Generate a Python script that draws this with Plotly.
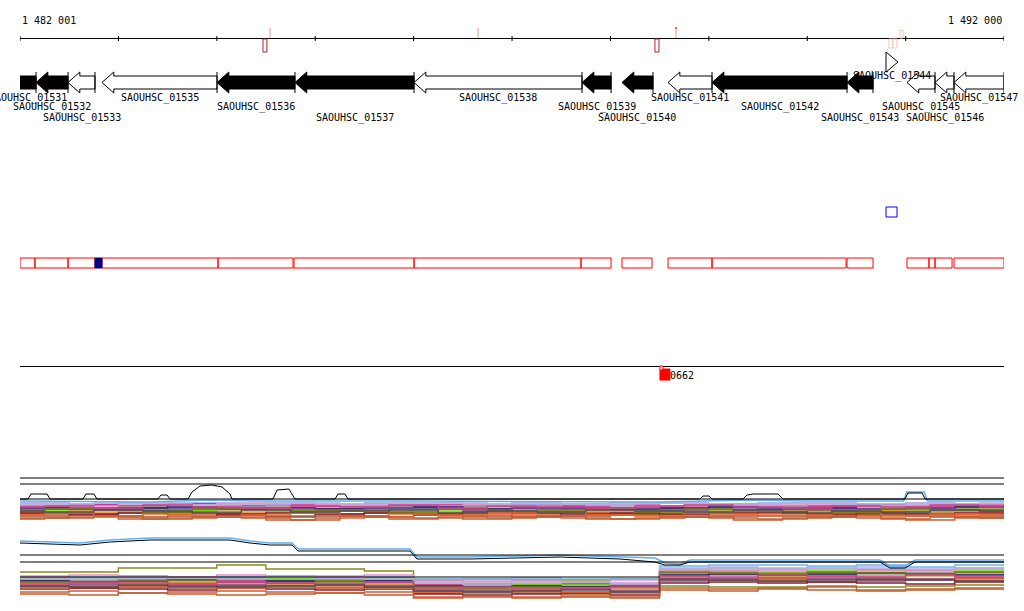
import plotly.graph_objects as go

# ---------------- data ----------------
X_MIN, X_MAX = 1482001, 1492000
ruler_ticks = [1482001, 1483001, 1484001, 1485001, 1486001, 1487001, 1488001,
               1489001, 1490001, 1491001, 1492000]
ruler_left_label = "1 482 001"
ruler_right_label = "1 492 000"

gene_names = ["SAOUHSC_01531", "SAOUHSC_01532", "SAOUHSC_01533", "SAOUHSC_01535",
              "SAOUHSC_01536", "SAOUHSC_01537", "SAOUHSC_01538", "SAOUHSC_01539",
              "SAOUHSC_01540", "SAOUHSC_01541", "SAOUHSC_01542", "SAOUHSC_01543",
              "SAOUHSC_01544", "SAOUHSC_01545", "SAOUHSC_01546", "SAOUHSC_01547"]
gene_start = [1481700, 1482164, 1482489, 1482834, 1484003, 1484795, 1486005, 1487712,
              1488118, 1488586, 1489033, 1490405, 1490801, 1491014, 1491299, 1491492]
gene_end = [1482164, 1482489, 1482763, 1484003, 1484795, 1486005, 1487712, 1488007,
            1488433, 1489033, 1490405, 1490669, 1490923, 1491299, 1491492, 1492000]
gene_strand = ["-", "-", "-", "-", "-", "-", "-", "-", "-", "-", "-", "-", "+", "-", "-", "-"]
gene_black = [1, 1, 0, 0, 1, 1, 0, 1, 1, 0, 1, 1, 0, 0, 0, 0]

# red region boxes
box_start = [1482001, 1482153, 1482489, 1482834, 1484013, 1484785, 1486005, 1487702,
             1488118, 1488586, 1489033, 1490405, 1491014, 1491238, 1491299, 1491492]
box_end = [1482153, 1482489, 1482763, 1484013, 1484775, 1486005, 1487702, 1488007,
           1488423, 1489033, 1490395, 1490669, 1491238, 1491299, 1491472, 1492000]
blue_fill_box = (1482763, 1482834)
blue_open_box = (1490801, 1490913)

# small ruler features
dark_red_marks = [(1484470, 1484510), (1488453, 1488494)]
pale_ticks = [1484541, 1486655, 1488667]
pale_low_boxes = [(1490831, 1490872), (1490872, 1490913)]
pale_high_boxes = [(1490943, 1490974)]

# feature on line track
feature_span = (1488504, 1488606)
feature_label = "0662"

# expression panels: sampled positions
X = [1482001, 1482500, 1483000, 1483500, 1484000, 1484500, 1485000, 1485500, 1486000,
     1486500, 1487000, 1487500, 1488000, 1488500, 1489000, 1489500, 1490000, 1490500,
     1491000, 1491500, 1492000]

p1_colors = ["#a99bd6", "#c0147c", "#e68ac4", "#9b9b9b", "#8a8a1a", "#5ce600", "#f07a2a",
             "#d9532b", "#a0522d", "#1c1c6e", "#c8a15a", "#8b1a2a", "#c85f3c", "#7a50a0"]
p1_values = [
    [22, 21, 22, 22, 21, 22, 21, 22, 22, 21, 22, 21, 22, 22, 21, 22, 22, 21, 22, 21, 22],
    [19, 20, 19, 21, 19, 20, 19, 19, 20, 19, 20, 19, 20, 19, 20, 19, 19, 20, 19, 20, 19],
    [20, 19, 21, 20, 22, 19, 20, 21, 19, 20, 19, 21, 20, 19, 21, 20, 21, 19, 20, 21, 20],
    [18, 17, 18, 17, 18, 18, 17, 18, 17, 18, 18, 17, 18, 17, 18, 18, 17, 18, 17, 18, 18],
    [16, 15, 17, 15, 16, 14, 16, 15, 17, 16, 15, 16, 14, 16, 15, 17, 15, 16, 14, 16, 15],
    [15, 16, 14, 15, 16, 15, 14, 16, 15, 14, 16, 15, 16, 14, 15, 16, 14, 15, 16, 14, 15],
    [13, 12, 14, 13, 12, 13, 14, 12, 13, 14, 12, 13, 12, 14, 13, 12, 13, 14, 12, 13, 13],
    [11, 10, 12, 11, 10, 9, 11, 12, 10, 11, 10, 12, 11, 10, 11, 12, 10, 11, 12, 10, 11],
    [9, 10, 8, 9, 10, 8, 9, 8, 10, 9, 8, 9, 10, 8, 9, 9, 8, 10, 9, 8, 9],
    [17, 16, 17, 18, 16, 17, 16, 17, 18, 16, 17, 17, 16, 17, 18, 16, 17, 16, 17, 18, 17],
    [13, 14, 13, 12, 14, 13, 14, 13, 12, 14, 13, 14, 13, 12, 14, 13, 14, 12, 13, 14, 13],
    [12, 11, 12, 13, 11, 12, 11, 12, 11, 13, 12, 11, 12, 11, 12, 13, 11, 12, 11, 12, 12],
    [7, 8, 6, 7, 8, 5, 7, 8, 7, 6, 8, 7, 6, 8, 7, 6, 8, 7, 5, 7, 8],
    [16, 17, 15, 16, 17, 16, 15, 17, 16, 15, 17, 16, 17, 15, 16, 17, 15, 16, 17, 15, 16],
]
p1_extra_colors = ["#e8642c", "#b8b0e0", "#7b7b10", "#d0408a", "#c06030", "#505050"]
p1_extra_values = [
    [10, 12, 9, 11, 13, 10, 12, 9, 11, 10, 12, 13, 10, 9, 12, 11, 10, 13, 9, 11, 10],
    [21, 20, 22, 21, 20, 21, 22, 20, 21, 22, 20, 21, 20, 22, 21, 20, 22, 21, 20, 21, 22],
    [14, 16, 15, 13, 16, 17, 14, 15, 13, 16, 14, 15, 17, 13, 16, 14, 15, 13, 16, 15, 14],
    [18, 19, 17, 20, 18, 17, 19, 18, 20, 17, 19, 18, 17, 19, 20, 18, 17, 19, 18, 20, 18],
    [6, 7, 9, 6, 8, 7, 5, 9, 6, 8, 7, 9, 6, 7, 8, 5, 7, 9, 6, 8, 7],
    [14, 13, 15, 14, 12, 15, 13, 14, 15, 12, 14, 13, 15, 14, 13, 15, 12, 14, 13, 15, 14],
]
p1_blue_x = [1482001, 1483300, 1483900, 1484400, 1486000, 1488500, 1489400, 1490000,
             1490980, 1491010, 1491190, 1491220, 1492000]
p1_blue_v = [24, 23, 25, 24, 24, 23, 25, 24, 24, 33, 33, 24, 24]
p1_black_x = [1482001, 1482082, 1482112, 1482276, 1482306, 1482641, 1482671, 1482753,
              1482783, 1483403, 1483433, 1483495, 1483525, 1483708, 1483749, 1483830,
              1483952, 1484054, 1484135, 1484155, 1484572, 1484613, 1484734, 1484795,
              1485202, 1485232, 1485303, 1485334, 1488911, 1488941, 1489003, 1489033,
              1489348, 1489389, 1489450, 1489704, 1489755, 1490994, 1491024, 1491168,
              1491198, 1492000]
p1_black_v = [26, 26, 31, 31, 26, 26, 31, 31, 26, 26, 30, 30, 26, 26, 33, 39, 40, 38, 31,
              26, 26, 35, 36, 26, 26, 31, 31, 26, 26, 29, 29, 26, 26, 30, 31, 31, 26, 26,
              32, 32, 26, 26]
p1_ref_levels = [47, 41, 26]

p2_colors = ["#8a8a1a", "#6cb4ee", "#a99bd6", "#c0147c", "#5ce600", "#9b9b9b", "#f07a2a",
             "#d9532b", "#a0522d", "#1c1c6e", "#c8a15a", "#8b1a2a", "#c85f3c", "#7a50a0",
             "#e68ac4"]
p2_values = [
    [28, 28, 32, 32, 35, 31, 31, 29, 20, 21, 20, 20, 21, 14, 13, 13, 14, 13, 14, 15, 14],
    [23, 23, 24, 23, 23, 24, 23, 23, 21, 21, 22, 21, 21, 34, 35, 35, 34, 35, 33, 35, 34],
    [22, 21, 22, 21, 22, 21, 22, 22, 17, 18, 17, 18, 17, 31, 32, 31, 32, 31, 30, 32, 31],
    [20, 19, 20, 21, 20, 19, 20, 20, 15, 16, 15, 16, 15, 27, 28, 27, 28, 27, 26, 28, 27],
    [21, 22, 20, 21, 22, 21, 20, 21, 14, 15, 16, 15, 14, 29, 30, 28, 29, 30, 28, 29, 29],
    [18, 19, 18, 17, 18, 19, 18, 18, 13, 14, 13, 14, 13, 26, 27, 26, 25, 26, 27, 26, 26],
    [17, 16, 17, 18, 16, 17, 16, 17, 12, 11, 12, 13, 12, 24, 25, 24, 23, 24, 25, 24, 24],
    [15, 14, 15, 16, 14, 15, 16, 15, 9, 10, 9, 8, 10, 21, 22, 21, 22, 20, 21, 22, 21],
    [13, 12, 13, 12, 14, 13, 12, 13, 7, 8, 7, 6, 8, 19, 20, 19, 18, 19, 20, 19, 19],
    [19, 18, 19, 20, 18, 19, 18, 19, 14, 13, 14, 13, 14, 25, 26, 25, 26, 27, 26, 25, 26],
    [16, 17, 16, 15, 17, 16, 17, 16, 11, 12, 11, 12, 11, 23, 22, 23, 22, 23, 24, 22, 23],
    [11, 12, 11, 10, 12, 11, 10, 11, 6, 5, 6, 7, 5, 17, 18, 17, 18, 17, 16, 18, 17],
    [8, 9, 7, 8, 9, 8, 7, 8, 3, 4, 3, 4, 3, 12, 11, 12, 13, 10, 11, 12, 11],
    [14, 15, 14, 13, 15, 14, 15, 14, 10, 9, 10, 11, 9, 20, 21, 22, 21, 20, 21, 22, 21],
    [24, 25, 24, 23, 25, 24, 24, 25, 19, 20, 19, 18, 20, 30, 29, 30, 31, 29, 30, 31, 30],
]
p2_extra_colors = ["#e8642c", "#b8b0e0", "#7b7b10", "#d0408a", "#c06030", "#505050"]
p2_extra_values = [
    [12, 14, 13, 15, 12, 14, 13, 12, 8, 7, 9, 8, 7, 22, 20, 21, 23, 22, 20, 21, 22],
    [21, 22, 23, 22, 21, 23, 22, 21, 17, 16, 17, 18, 16, 32, 33, 32, 31, 33, 32, 31, 33],
    [18, 17, 19, 20, 18, 17, 19, 18, 13, 12, 13, 12, 14, 28, 27, 26, 28, 27, 26, 28, 27],
    [16, 18, 17, 16, 18, 17, 16, 18, 12, 13, 12, 11, 13, 24, 23, 25, 24, 23, 25, 24, 23],
    [6, 5, 7, 6, 5, 6, 7, 5, 2, 3, 2, 3, 2, 10, 9, 11, 10, 9, 10, 11, 10],
    [14, 13, 15, 14, 13, 14, 15, 13, 9, 8, 9, 10, 8, 21, 20, 19, 20, 21, 20, 19, 20],
]
p2_blue_x = [1482001, 1482611, 1482916, 1483322, 1484135, 1484338, 1484541, 1484765,
             1484826, 1485964, 1486035, 1486574, 1487488, 1488098, 1488453, 1488555,
             1488708, 1488809, 1490740, 1490842, 1490994, 1491096, 1492000]
p2_blue_v = [59, 57, 60, 62, 62, 59, 57, 57, 51, 51, 43, 43, 45, 43, 42, 37, 36, 40, 40,
             34, 34, 40, 40]
p2_black_v = [57, 55, 58, 60, 60, 57, 55, 55, 49, 49, 41, 41, 43, 41, 38, 35, 35, 38, 38,
              32, 32, 38, 38]
p2_ref_levels = [45, 38]
p2_short_ref = (23, 1488500)

# ---------------- figure ----------------
W, H = 1024, 611
FONT = dict(family="DejaVu Sans Mono", size=10, color="black")
fig = go.Figure()
shapes = []
annotations = []


def line_shape(x0, y0, x1, y1, color="black", width=1, yref="y"):
    shapes.append(dict(type="line", xref="x", yref=yref, x0=x0, x1=x1, y0=y0, y1=y1,
                       line=dict(color=color, width=width)))


def rect_shape(x0, x1, y0, y1, line_color, fill="rgba(0,0,0,0)", width=1):
    shapes.append(dict(type="rect", xref="x", yref="y", x0=x0, x1=x1, y0=y0, y1=y1,
                       line=dict(color=line_color, width=width), fillcolor=fill))


# ruler
RULER_Y = 38.5
line_shape(X_MIN, RULER_Y, X_MAX, RULER_Y)
for t in ruler_ticks:
    line_shape(t, 36, t, 41)
annotations.append(dict(x=X_MIN, y=20, xref="x", yref="y", text=ruler_left_label,
                        showarrow=False, xanchor="left", yanchor="middle", font=FONT))
annotations.append(dict(x=X_MAX, y=20, xref="x", yref="y", text=ruler_right_label,
                        showarrow=False, xanchor="right", yanchor="middle", font=FONT))
for a, b in dark_red_marks:
    rect_shape(a, b, 39, 52, "#b22222", "white")
for t in pale_ticks:
    line_shape(t, 28, t, 38, color="#f6cdbd", width=2)
line_shape(pale_ticks[2], 27, pale_ticks[2], 29, color="#ff5a3a", width=2)
for a, b in pale_low_boxes:
    rect_shape(a, b, 39, 48, "#f2c4b4", "white")
for a, b in pale_high_boxes:
    rect_shape(a, b, 30, 38, "#f2c4b4", "white")

# genes
HEAD = 120
for i, name in enumerate(gene_names):
    s, e = gene_start[i], gene_end[i]
    plus = gene_strand[i] == "+"
    yc = 62 if plus else 82.5
    h = min(HEAD, e - s)
    if plus:
        xs = [e, e - h, e - h, s, s, e - h, e - h, e]
        ys = [yc, yc - 10, yc - 10, yc - 10, yc + 10, yc + 10, yc + 10, yc]
    else:
        xs = [s, s + h, s + h, e, e, s + h, s + h, s]
        ys = [yc, yc - 10.5, yc - 6.5, yc - 6.5, yc + 6.5, yc + 6.5, yc + 10.5, yc]
    fig.add_trace(go.Scatter(x=xs, y=ys, mode="lines", fill="toself",
                             fillcolor="black" if gene_black[i] else "white",
                             line=dict(color="black", width=1), hoverinfo="skip",
                             showlegend=False))
    if not plus:
        line_shape(e, 72, e, 93)
    vis_c = (max(s, X_MIN) + min(e, X_MAX)) / 2
    ly = 76 if plus else [97.5, 107, 118][i % 3]
    annotations.append(dict(x=vis_c, y=ly, xref="x", yref="y", text=name, showarrow=False,
                            xanchor="center", yanchor="middle", font=FONT))

# region boxes
for a, b in zip(box_start, box_end):
    rect_shape(a, b, 258, 268, "red")
rect_shape(blue_fill_box[0], blue_fill_box[1], 258, 268, "#000080", "#000080")
rect_shape(blue_open_box[0], blue_open_box[1], 207, 217, "blue")

# feature line
line_shape(X_MIN, 366.5, X_MAX, 366.5)
rect_shape(feature_span[0], feature_span[1], 369, 380, "red", "red")
rect_shape(feature_span[0], feature_span[0] + 30, 366, 370, "red", "white")
annotations.append(dict(x=feature_span[0] + 80, y=375, xref="x", yref="y",
                        text=feature_label, showarrow=False, xanchor="left",
                        yanchor="middle", font=FONT))


def add_series(xs, ys, color, yaxis, width=1.4, shape="hv"):
    fig.add_trace(go.Scatter(x=xs, y=ys, mode="lines",
                             line=dict(color=color, width=width, shape=shape),
                             xaxis="x", yaxis=yaxis, hoverinfo="skip", showlegend=False))


# expression panel 1
for lv in p1_ref_levels:
    line_shape(X_MIN, lv, X_MAX, lv, yref="y2")
for c, vals in zip(p1_colors, p1_values):
    add_series(X, vals, c, "y2")
for c, vals in zip(p1_extra_colors, p1_extra_values):
    add_series(X, vals, c, "y2", shape="hvh")
add_series(p1_blue_x, p1_blue_v, "#5fb0f0", "y2", width=1.5, shape="linear")
add_series(p1_black_x, p1_black_v, "black", "y2", width=1, shape="linear")

# expression panel 2
for lv in p2_ref_levels:
    line_shape(X_MIN, lv, X_MAX, lv, yref="y3")
line_shape(X_MIN, p2_short_ref[0], p2_short_ref[1], p2_short_ref[0], yref="y3")
for c, vals in zip(p2_colors, p2_values):
    add_series(X, vals, c, "y3")
for c, vals in zip(p2_extra_colors, p2_extra_values):
    add_series(X, vals, c, "y3")
add_series(p2_blue_x, p2_blue_v, "#5fb0f0", "y3", width=1.5, shape="linear")
add_series(p2_blue_x, p2_black_v, "black", "y3", width=1, shape="linear")


def px_to_paper(p):
    return (H - p) / H


hidden = dict(visible=False, showgrid=False, zeroline=False, fixedrange=True)
fig.update_layout(
    width=W, height=H,
    margin=dict(l=20, r=20, t=0, b=0, pad=0),
    paper_bgcolor="white", plot_bgcolor="rgba(0,0,0,0)",
    showlegend=False,
    xaxis=dict(range=[X_MIN, X_MAX], domain=[0, 1], **hidden),
    yaxis=dict(range=[H, 0], domain=[0, 1], **hidden),
    yaxis2=dict(range=[0, 55], domain=[px_to_paper(525), px_to_paper(470)], anchor="x", **hidden),
    yaxis3=dict(range=[0, 70], domain=[px_to_paper(600), px_to_paper(530)], anchor="x", **hidden),
    shapes=shapes,
    annotations=annotations,
)
fig.write_html("out.html", config=dict(displayModeBar=False),
               post_script="document.body.style.margin='0';document.body.style.overflow='hidden';")
